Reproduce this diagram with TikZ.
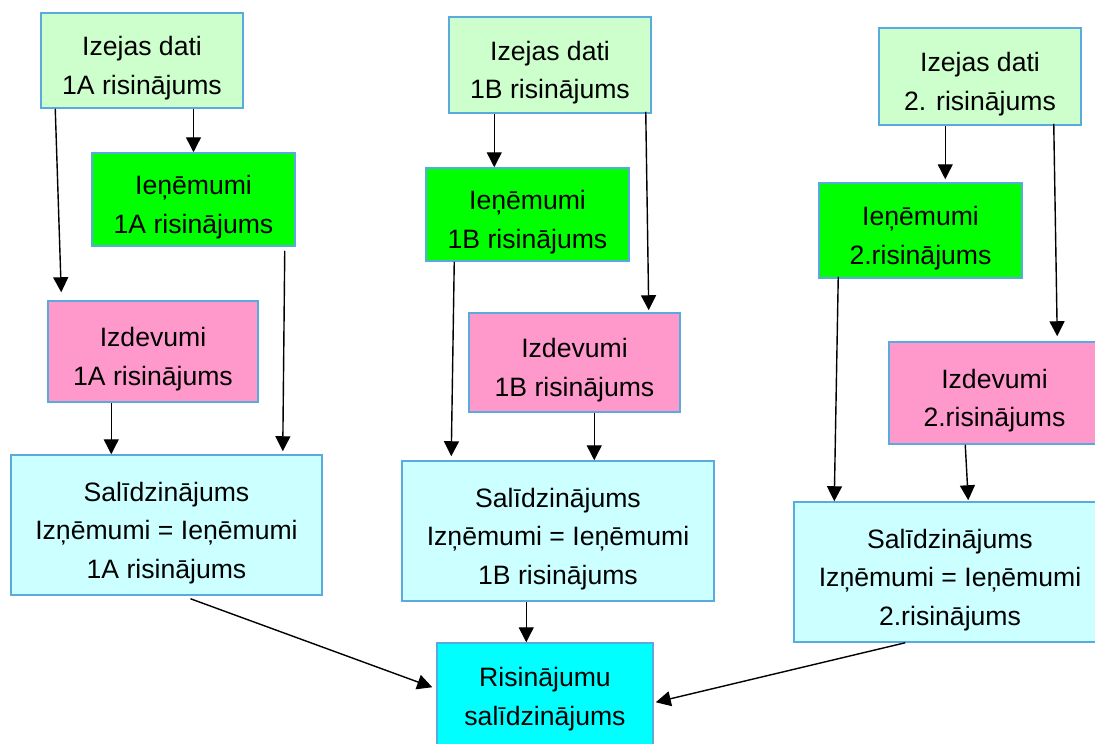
\documentclass[tikz,border=0pt]{standalone}
\usepackage{fontspec}
\setmainfont{Liberation Sans}
\usetikzlibrary{arrows.meta}
\definecolor{dataC}{HTML}{CCFFCC}
\definecolor{incomeC}{HTML}{00FF00}
\definecolor{costC}{HTML}{FF99CC}
\definecolor{compC}{HTML}{CCFFFF}
\definecolor{resultC}{HTML}{00FFFF}
\definecolor{edgeC}{HTML}{5AAADD}
% centred lines of a box, lowered a little inside the frame
\newcommand{\boxtext}[2][-7pt]{\raisebox{#1}[\height][\depth]{\begin{tabular}{@{}c@{}}#2\end{tabular}}}
\begin{document}
\begin{tikzpicture}[x=1pt,y=-1pt,
  box/.style={draw=edgeC, line width=1.5pt, inner sep=0pt, font=\fontsize{26.6}{38.5}\selectfont},
  arr/.style={line width=1.4pt, -{Triangle[length=15pt,width=15pt]}}]
\useasboundingbox (0,0) rectangle (1095,744);

% column 1A
\node[box, fill=dataC,   minimum width=202pt, minimum height=95pt]  (dA) at (142,60.5)   {\boxtext{Izejas dati\\1A risinājums}};
\node[box, fill=incomeC, minimum width=203pt, minimum height=93pt]  (iA) at (193.5,199.5) {\boxtext{Ieņēmumi\\1A risinājums}};
\node[box, fill=costC,   minimum width=210pt, minimum height=101pt] (eA) at (153,351.5)  {\boxtext{Izdevumi\\1A risinājums}};
\node[box, fill=compC,   minimum width=311pt, minimum height=140pt] (sA) at (166.5,525)  {\boxtext{Salīdzinājums\\Izņēmumi = Ieņēmumi\\1A risinājums}};

% column 1B
\node[box, fill=dataC,   minimum width=202pt, minimum height=96pt]  (dB) at (550,65)     {\boxtext{Izejas dati\\1B risinājums}};
\node[box, fill=incomeC, minimum width=203pt, minimum height=93pt]  (iB) at (527.5,214.5) {\boxtext{Ieņēmumi\\1B risinājums}};
\node[box, fill=costC,   minimum width=211pt, minimum height=99pt]  (eB) at (574.5,362.5) {\boxtext{Izdevumi\\1B risinājums}};
\node[box, fill=compC,   minimum width=312pt, minimum height=140pt] (sB) at (558,531)    {\boxtext{Salīdzinājums\\Izņēmumi = Ieņēmumi\\1B risinājums}};

% column 2
\node[box, fill=dataC,   minimum width=202pt, minimum height=97pt]  (d2) at (980,76.5)   {\boxtext{Izejas dati\\2. risinājums}};
\node[box, fill=incomeC, minimum width=203pt, minimum height=95pt]  (i2) at (920.5,230.5) {\boxtext{Ieņēmumi\\2.risinājums}};
\node[box, fill=costC,   minimum width=211pt, minimum height=102pt] (e2) at (994.5,393)  {\boxtext{Izdevumi\\2.risinājums}};
\node[box, fill=compC,   minimum width=312pt, minimum height=140pt] (s2) at (950,572)    {\boxtext{Salīdzinājums\\Izņēmumi = Ieņēmumi\\2.risinājums}};

% final comparison
\node[box, fill=resultC, minimum width=216pt, minimum height=105pt] (R) at (545,695.5) {\boxtext[-3pt]{Risinājumu\\salīdzinājums}};

% connectors of column 1A
\draw[arr] ([xshift=15pt]dA.south west) -- ([xshift=14pt,yshift=8pt]eA.north west);
\draw[arr] (dA.south -| iA.north) -- (iA.north);
\draw[arr] ([xshift=-11pt,yshift=-4pt]iA.south east) -- ([xshift=-40pt,yshift=3pt]sA.north east);
\draw[arr] ([xshift=64pt]eA.south west) -- ([xshift=64pt]eA.south west |- sA.north);
\draw[arr] ([xshift=24pt,yshift=-3pt]sA.south) -- ([xshift=-4pt,yshift=-45pt]R.north west);

% connectors of column 1B
\draw[arr] ([xshift=46pt]dB.south west) -- ([xshift=46pt]dB.south west |- iB.north);
\draw[arr] ([xshift=-6pt,yshift=2pt]dB.south east) -- ([xshift=-32pt,yshift=2pt]eB.north east);
\draw[arr] ([xshift=29pt]iB.south west) -- ([xshift=50pt,yshift=4pt]sB.north west);
\draw[arr] ([xshift=126pt]eB.south west) -- ([xshift=126pt]eB.south west |- sB.north);
\draw[arr] ([xshift=125pt]sB.south west) -- ([xshift=125pt]sB.south west |- R.north);

% connectors of column 2
\draw[arr] ([xshift=67pt]d2.south west) -- ([xshift=127pt,yshift=3pt]i2.north west);
\draw[arr] ([xshift=-28pt,yshift=2pt]d2.south east) -- ([xshift=169pt,yshift=5pt]e2.north west);
\draw[arr] ([xshift=20pt,yshift=2pt]i2.south west) -- ([xshift=41pt]s2.north west);
\draw[arr] ([xshift=77pt]e2.south west) -- ([xshift=175pt,yshift=1pt]s2.north west);
\draw[arr] ([xshift=112pt]s2.south west) -- ([xshift=2pt,yshift=-60pt]R.north east);
\end{tikzpicture}
\end{document}
